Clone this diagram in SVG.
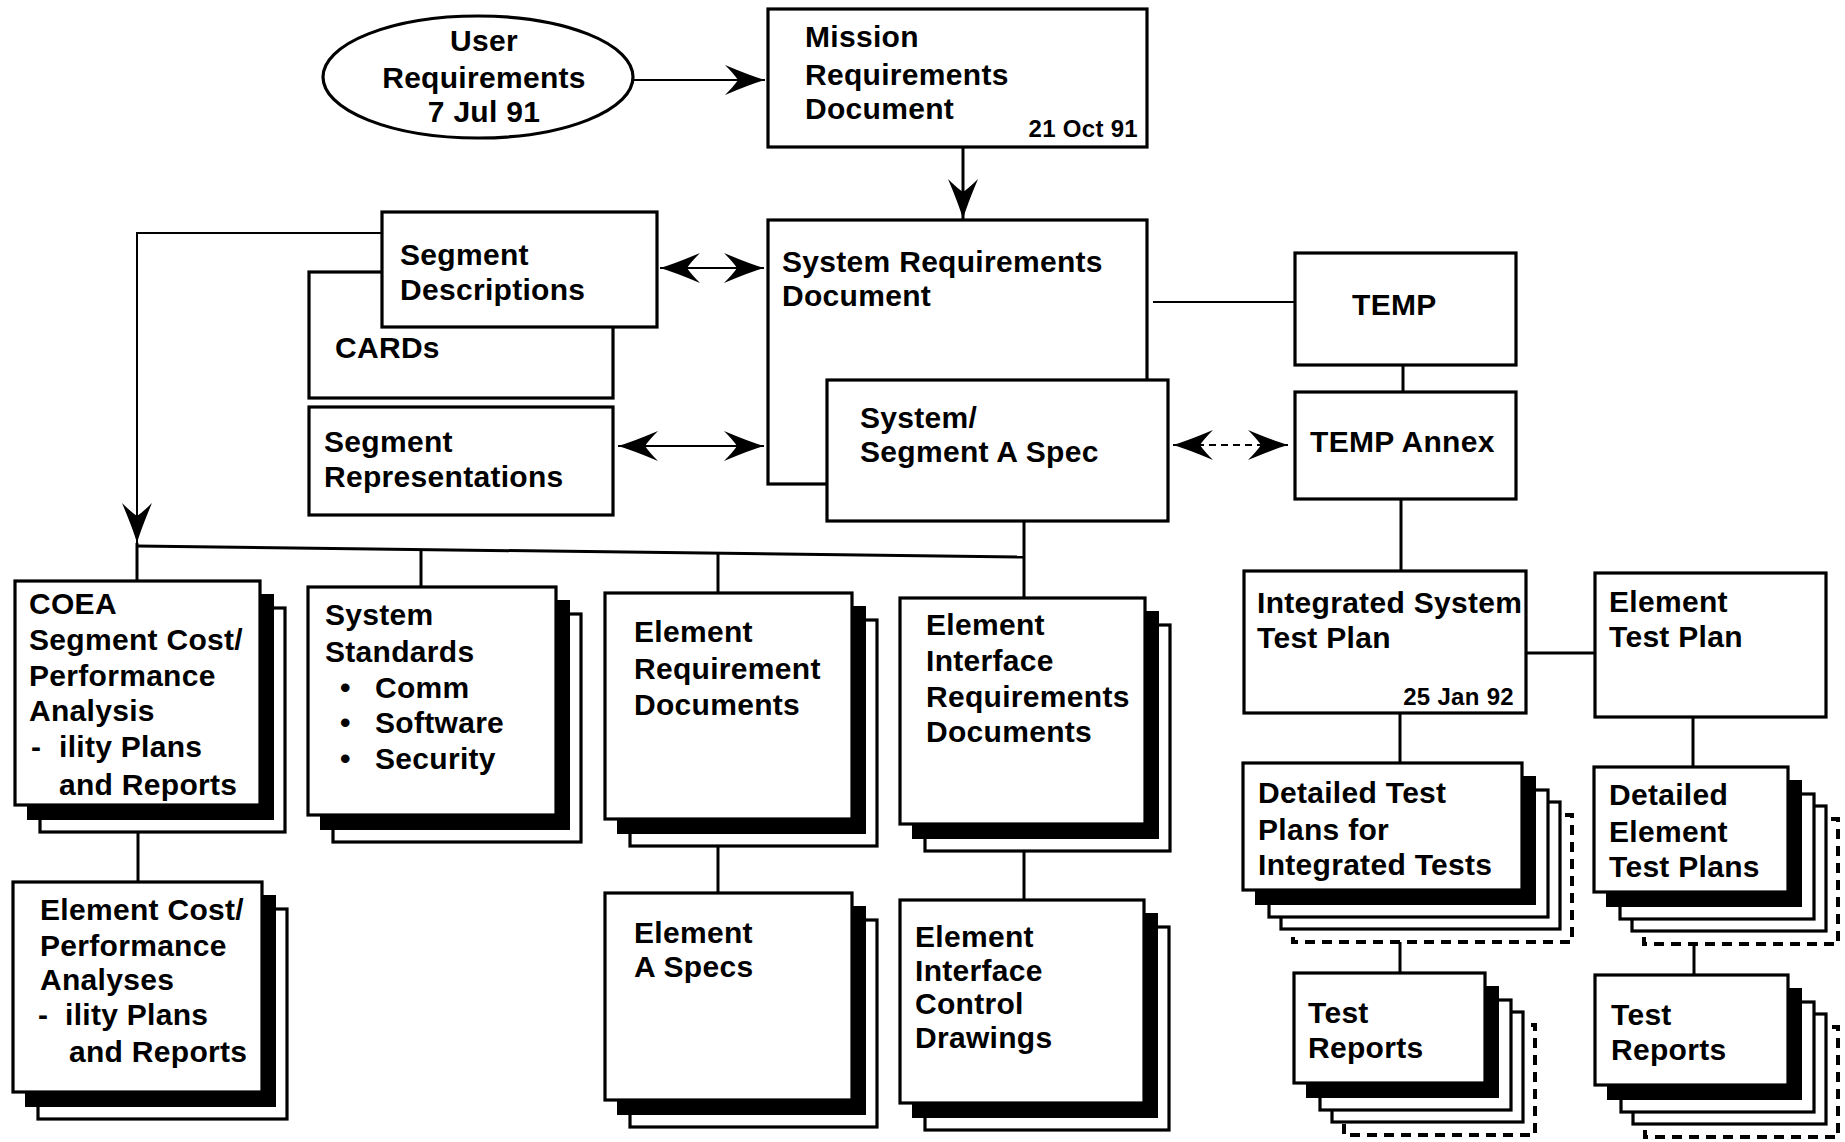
<svg xmlns="http://www.w3.org/2000/svg" width="1845" height="1142" viewBox="0 0 1845 1142">
<defs>
<style>
.box{fill:#fff;stroke:#000;stroke-width:3.2}
.blk{fill:#000;stroke:#000;stroke-width:2}
.dsh{fill:#fff;stroke:#000;stroke-width:4;stroke-dasharray:10 7}
.t{font-family:"Liberation Sans",Arial,Helvetica,sans-serif;font-weight:bold;font-size:30px;letter-spacing:0.3px;fill:#000}
.sm{font-size:24px;letter-spacing:0.3px}
.ln{fill:none;stroke:#000;stroke-width:3}
.th{fill:none;stroke:#000;stroke-width:2}
.dl{fill:none;stroke:#000;stroke-width:2;stroke-dasharray:7 5}
</style>
<marker id="ah" markerUnits="userSpaceOnUse" viewBox="-42 -17 44 34" markerWidth="44" markerHeight="34" refX="0" refY="0" orient="auto-start-reverse">
<path d="M0,0 Q-14,-4 -40,-15 Q-31,-6 -27,0 Q-31,6 -40,15 Q-14,4 0,0 Z" fill="#000"/>
</marker>
</defs>
<rect width="1845" height="1142" fill="#fff"/>

<g id="connectors">
<line class="th" x1="633" y1="80" x2="765" y2="80" marker-end="url(#ah)"/>
<line class="ln" x1="963" y1="147" x2="963" y2="219" marker-end="url(#ah)"/>
<line class="th" x1="660" y1="268" x2="764" y2="268" marker-start="url(#ah)" marker-end="url(#ah)"/>
<line class="th" x1="618" y1="446" x2="764" y2="446" marker-start="url(#ah)" marker-end="url(#ah)"/>
<line class="th" x1="1153" y1="302" x2="1295" y2="302"/>
<line class="ln" x1="1403" y1="365" x2="1403" y2="392"/>
<line class="dl" x1="1173" y1="445" x2="1288" y2="445" marker-start="url(#ah)" marker-end="url(#ah)"/>
<line class="ln" x1="1401" y1="499" x2="1401" y2="571"/>
<line class="ln" x1="1526" y1="653" x2="1595" y2="653"/>
<line class="ln" x1="1400" y1="713" x2="1400" y2="763"/>
<line class="ln" x1="1400" y1="942" x2="1400" y2="973"/>
<line class="ln" x1="1693" y1="717" x2="1693" y2="767"/>
<line class="ln" x1="1694" y1="944" x2="1694" y2="975"/>
<path class="th" d="M383,233 L137,233 L137,543" marker-end="url(#ah)"/>
<line class="ln" x1="137" y1="546" x2="1024" y2="557"/>
<line class="ln" x1="1024" y1="521" x2="1024" y2="598"/>
<line class="ln" x1="137" y1="543" x2="137" y2="581"/>
<line class="ln" x1="421" y1="550" x2="421" y2="587"/>
<line class="ln" x1="718" y1="554" x2="718" y2="593"/>
<line class="ln" x1="138" y1="832" x2="138" y2="882"/>
<line class="ln" x1="718" y1="846" x2="718" y2="893"/>
<line class="ln" x1="1024" y1="851" x2="1024" y2="900"/>
</g>

<g id="user-requirements">
<ellipse class="box" cx="478" cy="77" rx="155" ry="61"/>
<text class="t" text-anchor="middle"><tspan x="484" y="51">User</tspan><tspan x="484" y="88">Requirements</tspan><tspan x="484" y="122">7 Jul 91</tspan></text>
</g>

<g id="mission-requirements">
<rect class="box" x="768" y="9" width="379" height="138"/>
<text class="t"><tspan x="805" y="47">Mission</tspan><tspan x="805" y="85">Requirements</tspan><tspan x="805" y="119">Document</tspan></text>
<text class="t sm" x="1138" y="137" text-anchor="end">21 Oct 91</text>
</g>

<g id="system-requirements">
<rect class="box" x="768" y="220" width="379" height="264"/>
<text class="t"><tspan x="782" y="272">System Requirements</tspan><tspan x="782" y="306">Document</tspan></text>
</g>

<g id="system-segment-a-spec">
<rect class="box" x="827" y="380" width="341" height="141"/>
<text class="t"><tspan x="860" y="428">System/</tspan><tspan x="860" y="462">Segment A Spec</tspan></text>
</g>

<g id="cards">
<rect class="box" x="309" y="272" width="304" height="126"/>
<text class="t" x="335" y="358">CARDs</text>
</g>

<g id="segment-descriptions">
<rect class="box" x="382" y="212" width="275" height="115"/>
<text class="t"><tspan x="400" y="265">Segment</tspan><tspan x="400" y="300">Descriptions</tspan></text>
</g>

<g id="segment-representations">
<rect class="box" x="309" y="407" width="304" height="108"/>
<text class="t"><tspan x="324" y="452">Segment</tspan><tspan x="324" y="487">Representations</tspan></text>
</g>

<g id="temp">
<rect class="box" x="1295" y="253" width="221" height="112"/>
<text class="t" x="1352" y="315">TEMP</text>
</g>

<g id="temp-annex">
<rect class="box" x="1295" y="392" width="221" height="107"/>
<text class="t" x="1310" y="452">TEMP Annex</text>
</g>

<g id="integrated-system-test-plan">
<rect class="box" x="1244" y="571" width="282" height="142"/>
<text class="t"><tspan x="1257" y="613">Integrated System</tspan><tspan x="1257" y="648">Test Plan</tspan></text>
<text class="t sm" x="1514" y="705" text-anchor="end">25 Jan 92</text>
</g>

<g id="element-test-plan">
<rect class="box" x="1595" y="573" width="231" height="144"/>
<text class="t"><tspan x="1609" y="612">Element</tspan><tspan x="1609" y="647">Test Plan</tspan></text>
</g>

<g id="coea">
<rect class="box" x="40" y="608" width="245" height="224"/>
<rect class="blk" x="28" y="595" width="245" height="224"/>
<rect class="box" x="15" y="581" width="245" height="224"/>
<text class="t"><tspan x="29" y="614">COEA</tspan><tspan x="29" y="650">Segment Cost/</tspan><tspan x="29" y="686">Performance</tspan><tspan x="29" y="721">Analysis</tspan><tspan x="31" y="757">-</tspan><tspan x="59" y="757">ility Plans</tspan><tspan x="59" y="795">and Reports</tspan></text>
</g>

<g id="system-standards">
<rect class="box" x="333" y="614" width="248" height="228"/>
<rect class="blk" x="321" y="601" width="248" height="228"/>
<rect class="box" x="308" y="587" width="248" height="228"/>
<text class="t"><tspan x="325" y="625">System</tspan><tspan x="325" y="662">Standards</tspan><tspan x="340" y="698">•</tspan><tspan x="375" y="698">Comm</tspan><tspan x="340" y="733">•</tspan><tspan x="375" y="733">Software</tspan><tspan x="340" y="769">•</tspan><tspan x="375" y="769">Security</tspan></text>
</g>

<g id="element-requirement-documents">
<rect class="box" x="630" y="620" width="247" height="226"/>
<rect class="blk" x="618" y="607" width="247" height="226"/>
<rect class="box" x="605" y="593" width="247" height="226"/>
<text class="t"><tspan x="634" y="642">Element</tspan><tspan x="634" y="679">Requirement</tspan><tspan x="634" y="715">Documents</tspan></text>
</g>

<g id="element-interface-requirements-documents">
<rect class="box" x="925" y="625" width="245" height="226"/>
<rect class="blk" x="913" y="612" width="245" height="226"/>
<rect class="box" x="900" y="598" width="245" height="226"/>
<text class="t"><tspan x="926" y="635">Element</tspan><tspan x="926" y="671">Interface</tspan><tspan x="926" y="707">Requirements</tspan><tspan x="926" y="742">Documents</tspan></text>
</g>

<g id="element-cost-performance">
<rect class="box" x="38" y="909" width="249" height="210"/>
<rect class="blk" x="26" y="896" width="249" height="210"/>
<rect class="box" x="13" y="882" width="249" height="210"/>
<text class="t"><tspan x="40" y="920">Element Cost/</tspan><tspan x="40" y="956">Performance</tspan><tspan x="40" y="990">Analyses</tspan><tspan x="38" y="1025">-</tspan><tspan x="65" y="1025">ility Plans</tspan><tspan x="69" y="1062">and Reports</tspan></text>
</g>

<g id="element-a-specs">
<rect class="box" x="630" y="920" width="247" height="207"/>
<rect class="blk" x="618" y="907" width="247" height="207"/>
<rect class="box" x="605" y="893" width="247" height="207"/>
<text class="t"><tspan x="634" y="943">Element</tspan><tspan x="634" y="977">A Specs</tspan></text>
</g>

<g id="element-interface-control-drawings">
<rect class="box" x="925" y="927" width="244" height="203"/>
<rect class="blk" x="913" y="914" width="244" height="203"/>
<rect class="box" x="900" y="900" width="244" height="203"/>
<text class="t"><tspan x="915" y="947">Element</tspan><tspan x="915" y="981">Interface</tspan><tspan x="915" y="1014">Control</tspan><tspan x="915" y="1048">Drawings</tspan></text>
</g>

<g id="detailed-test-plans-integrated">
<rect class="dsh" x="1293" y="815" width="279" height="127"/>
<rect class="box" x="1281" y="802" width="279" height="127"/>
<rect class="box" x="1269" y="790" width="279" height="127"/>
<rect class="blk" x="1256" y="777" width="279" height="127"/>
<rect class="box" x="1243" y="763" width="279" height="127"/>
<text class="t"><tspan x="1258" y="803">Detailed Test</tspan><tspan x="1258" y="840">Plans for</tspan><tspan x="1258" y="875">Integrated Tests</tspan></text>
</g>

<g id="test-reports-integrated">
<rect class="dsh" x="1344" y="1025" width="191" height="110"/>
<rect class="box" x="1332" y="1012" width="191" height="110"/>
<rect class="box" x="1320" y="1000" width="191" height="110"/>
<rect class="blk" x="1307" y="987" width="191" height="110"/>
<rect class="box" x="1294" y="973" width="191" height="110"/>
<text class="t"><tspan x="1308" y="1023">Test</tspan><tspan x="1308" y="1058">Reports</tspan></text>
</g>

<g id="detailed-element-test-plans">
<rect class="dsh" x="1644" y="819" width="194" height="125"/>
<rect class="box" x="1632" y="806" width="194" height="125"/>
<rect class="box" x="1620" y="794" width="194" height="125"/>
<rect class="blk" x="1607" y="781" width="194" height="125"/>
<rect class="box" x="1594" y="767" width="194" height="125"/>
<text class="t"><tspan x="1609" y="805">Detailed</tspan><tspan x="1609" y="842">Element</tspan><tspan x="1609" y="877">Test Plans</tspan></text>
</g>

<g id="test-reports-element">
<rect class="dsh" x="1645" y="1027" width="193" height="110"/>
<rect class="box" x="1633" y="1014" width="193" height="110"/>
<rect class="box" x="1621" y="1002" width="193" height="110"/>
<rect class="blk" x="1608" y="989" width="193" height="110"/>
<rect class="box" x="1595" y="975" width="193" height="110"/>
<text class="t"><tspan x="1611" y="1025">Test</tspan><tspan x="1611" y="1060">Reports</tspan></text>
</g>
</svg>
